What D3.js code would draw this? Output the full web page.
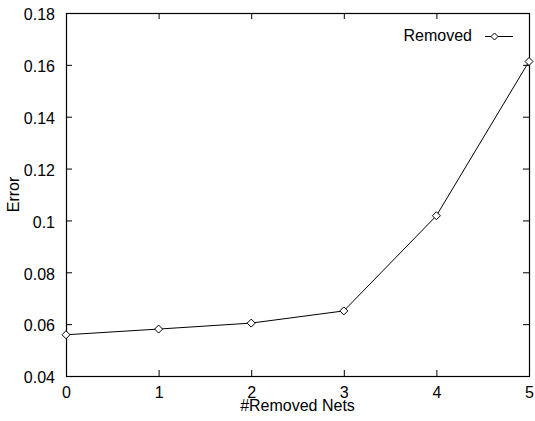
<!DOCTYPE html>
<html>
<head>
<meta charset="utf-8">
<script src="https://cdn.jsdelivr.net/npm/d3@7"></script>
<style>
  html, body { margin: 0; padding: 0; background: #fff; }
  svg { display: block; }
  text { font-family: "Liberation Sans", Arial, sans-serif; font-size: 16px; fill: #000; }
</style>
</head>
<body>
<svg id="chart" width="535" height="421"></svg>
<script>
// Error as a function of the number of removed nets
const removedNets = [0, 1, 2, 3, 4, 5];
const errorValues = [0.0559, 0.0581, 0.0604, 0.0651, 0.1018, 0.1613];
const xTicks = [0, 1, 2, 3, 4, 5];
const yTicks = [0.04, 0.06, 0.08, 0.1, 0.12, 0.14, 0.16, 0.18];
const seriesName = "Removed";

const svg = d3.select("#chart");
const margin = { left: 66, right: 6, top: 13, bottom: 45 };
const W = 535, H = 421;
const x0 = margin.left, x1 = W - margin.right;
const y0 = H - margin.bottom, y1 = margin.top;

const x = d3.scaleLinear().domain([0, 5]).range([x0, x1]);
const y = d3.scaleLinear().domain([0.04, 0.18]).range([y0, y1]);
const tickLen = 6;
const fontSize = 16;

// Bottom axis (ticks pointing inward) and mirrored top ticks
const axisB = svg.append("g").attr("transform", `translate(0,${y0})`)
  .call(d3.axisBottom(x).tickValues(xTicks).tickFormat(d3.format("d"))
    .tickSizeInner(-tickLen).tickSizeOuter(0).tickPadding(11));
const axisT = svg.append("g").attr("transform", `translate(0,${y1})`)
  .call(d3.axisTop(x).tickValues(xTicks).tickFormat("")
    .tickSizeInner(-tickLen).tickSizeOuter(0));

// Left axis and mirrored right ticks
const axisL = svg.append("g").attr("transform", `translate(${x0},0)`)
  .call(d3.axisLeft(y).tickValues(yTicks).tickFormat(d => String(+d.toFixed(2)))
    .tickSizeInner(-tickLen).tickSizeOuter(0).tickPadding(11));
const axisR = svg.append("g").attr("transform", `translate(${x1},0)`)
  .call(d3.axisRight(y).tickValues(yTicks).tickFormat("")
    .tickSizeInner(-tickLen).tickSizeOuter(0));

[axisB, axisT, axisL, axisR].forEach(g => {
  g.select(".domain").remove();
  g.selectAll("line").attr("stroke", "#000").attr("stroke-width", 1);
  g.selectAll("text").attr("font-family", "Liberation Sans, Arial, sans-serif")
    .attr("font-size", fontSize).attr("fill", "#000");
});
axisB.selectAll("text").attr("dy", "0.71em");
axisL.selectAll("text").attr("dy", "0.42em");

// Plot frame
svg.append("rect")
  .attr("x", x0 + 0.5).attr("y", y1 + 0.5)
  .attr("width", x1 - x0).attr("height", y0 - y1)
  .attr("fill", "none").attr("stroke", "#000").attr("stroke-width", 1.2);

// Series line
const line = d3.line().x((d, i) => x(removedNets[i])).y(d => y(d));
svg.append("path").datum(errorValues)
  .attr("d", line).attr("fill", "none").attr("stroke", "#000").attr("stroke-width", 1);

// Diamond markers
const diamond = (cx, cy, r) => `M${cx},${cy - r}L${cx + r},${cy}L${cx},${cy + r}L${cx - r},${cy}Z`;
svg.append("g").selectAll("path").data(errorValues).join("path")
  .attr("d", (d, i) => diamond(x(removedNets[i]), y(d), 4))
  .attr("fill", "#fff").attr("stroke", "#000").attr("stroke-width", 1);

// Legend
const lg = svg.append("g");
lg.append("text").attr("x", 472).attr("y", 40.5).attr("text-anchor", "end").text(seriesName);
lg.append("line").attr("x1", 485).attr("x2", 513).attr("y1", 36.5).attr("y2", 36.5)
  .attr("stroke", "#000").attr("stroke-width", 1);
lg.append("path").attr("d", diamond(494.5, 36.5, 3.5))
  .attr("fill", "#fff").attr("stroke", "#000").attr("stroke-width", 1);

// Axis titles
svg.append("text").attr("x", (x0 + x1) / 2).attr("y", 410.5)
  .attr("text-anchor", "middle").text("#Removed Nets");
svg.append("text").attr("transform", `translate(19,${(y0 + y1) / 2}) rotate(-90)`)
  .attr("text-anchor", "middle").text("Error");
</script>
</body>
</html>
